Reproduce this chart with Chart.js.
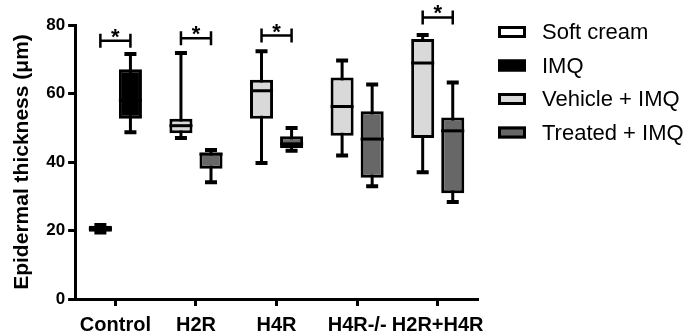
<!DOCTYPE html>
<html>
<head>
<meta charset="utf-8">
<script src="https://cdn.jsdelivr.net/npm/chart.js@4/dist/chart.umd.min.js"></script>
<style>
  html, body { margin: 0; padding: 0; background: #fff; }
</style>
</head>
<body>
<canvas id="box-chart" width="691" height="335"></canvas>
<script>
// groups on the x axis
const categories = ['Control', 'H2R', 'H4R', 'H4R-/-', 'H2R+H4R'];

// left box of each group: Soft cream (Control) / Vehicle + IMQ (the rest)
const leftMin = [19.4, 47.0, 39.7, 41.9, 37.0];
const leftQ1 = [19.6, 48.4, 52.6, 47.7, 47.0];
const leftMedian = [20.5, 50.6, 60.8, 56.2, 68.9];
const leftQ3 = [21.4, 52.6, 64.0, 64.7, 75.9];
const leftMax = [21.6, 71.8, 72.3, 69.6, 77.1];

// right box of each group: IMQ (Control) / Treated + IMQ (the rest)
const rightMin = [48.7, 34.1, 43.3, 32.9, 28.3];
const rightQ1 = [52.6, 38.0, 44.1, 35.4, 30.9];
const rightMedian = [58.0, 42.3, 45.3, 46.7, 49.1];
const rightQ3 = [67.1, 42.8, 47.5, 54.8, 53.0];
const rightMax = [71.5, 43.5, 49.9, 62.6, 63.2];

const yTicks = [0, 20, 40, 60, 80];

const legendLabels = ['Soft cream', 'IMQ', 'Vehicle + IMQ', 'Treated + IMQ'];

// significance brackets (* between the two boxes of a group)
const sigGroups = ['Control', 'H2R', 'H4R', 'H2R+H4R'];
const sigLevels = [75.4, 76.1, 76.9, 82.2];

var FONT = "'Liberation Sans', Arial, sans-serif";
var softCream = '#ffffff', imq = '#000000', vehicle = '#d9d9d9', treated = '#676767';
var legendFills = [softCream, imq, vehicle, treated];

var leftFill = categories.map((c, i) => i === 0 ? softCream : vehicle);
var rightFill = categories.map((c, i) => i === 0 ? imq : treated);

var stats = [
  {min: leftMin, med: leftMedian, max: leftMax},
  {min: rightMin, med: rightMedian, max: rightMax}
];

// whiskers, medians, brackets and legend drawn around the floating bars
const boxPlot = {
  id: 'boxPlot',
  beforeDatasetsDraw(chart) {
    const ctx = chart.ctx, y = chart.scales.y;
    ctx.save();
    ctx.strokeStyle = '#000';
    stats.forEach((s, d) => {
      chart.getDatasetMeta(d).data.forEach((bar, i) => {
        const bx = bar.x;
        const yMin = y.getPixelForValue(s.min[i]);
        const yMax = y.getPixelForValue(s.max[i]);
        ctx.lineWidth = 3;
        ctx.beginPath();
        ctx.moveTo(bx, yMin);
        ctx.lineTo(bx, yMax);
        ctx.stroke();
        ctx.lineWidth = 4;
        ctx.beginPath();
        ctx.moveTo(bx - 6, yMin);
        ctx.lineTo(bx + 6, yMin);
        ctx.moveTo(bx - 6, yMax);
        ctx.lineTo(bx + 6, yMax);
        ctx.stroke();
      });
    });
    ctx.restore();
  },
  afterDatasetsDraw(chart) {
    const ctx = chart.ctx, y = chart.scales.y;
    ctx.save();
    ctx.strokeStyle = '#000';
    ctx.lineWidth = 3;
    stats.forEach((s, d) => {
      chart.getDatasetMeta(d).data.forEach((bar, i) => {
        const ym = y.getPixelForValue(s.med[i]);
        ctx.beginPath();
        ctx.moveTo(bar.x - bar.width / 2, ym);
        ctx.lineTo(bar.x + bar.width / 2, ym);
        ctx.stroke();
      });
    });

    // brackets with stars
    ctx.lineWidth = 2.5;
    ctx.fillStyle = '#000';
    ctx.font = 'bold 22px ' + FONT;
    ctx.textAlign = 'center';
    ctx.textBaseline = 'alphabetic';
    sigGroups.forEach((g, k) => {
      const i = categories.indexOf(g);
      const x1 = chart.getDatasetMeta(0).data[i].x;
      const x2 = chart.getDatasetMeta(1).data[i].x;
      const yl = y.getPixelForValue(sigLevels[k]);
      ctx.beginPath();
      ctx.moveTo(x1, yl - 7);
      ctx.lineTo(x1, yl + 7);
      ctx.moveTo(x1, yl);
      ctx.lineTo(x2, yl);
      ctx.moveTo(x2, yl - 7);
      ctx.lineTo(x2, yl + 7);
      ctx.stroke();
      ctx.fillText('*', (x1 + x2) / 2, yl + 3);
    });
    ctx.restore();
  },
  afterDraw(chart) {
    const ctx = chart.ctx;
    ctx.save();
    ctx.font = '22px ' + FONT;
    ctx.textBaseline = 'middle';
    ctx.textAlign = 'left';
    legendLabels.forEach((lab, k) => {
      const cy = 32 + k * 33.5;
      ctx.fillStyle = legendFills[k];
      ctx.fillRect(498, cy - 6, 28, 12);
      ctx.strokeStyle = '#000';
      ctx.lineWidth = 3;
      ctx.strokeRect(499.5, cy - 4.5, 25, 9);
      ctx.fillStyle = '#000';
      ctx.fillText(lab, 542, cy + 1);
    });
    ctx.restore();
  }
};

const data = {
  labels: categories,
  datasets: [
    {
      label: 'left',
      data: leftQ1.map((q, i) => [q, leftQ3[i]]),
      backgroundColor: leftFill,
      borderColor: '#000',
      borderWidth: 3,
      borderSkipped: false
    }, {
      label: 'right',
      data: rightQ1.map((q, i) => [q, rightQ3[i]]),
      backgroundColor: rightFill,
      borderColor: '#000',
      borderWidth: 3,
      borderSkipped: false
    }
  ]
};

const config = {
  type: 'bar',
  data,
  options: {
    responsive: false,
    animation: false,
    categoryPercentage: 0.746,
    barPercentage: 0.767,
    layout: {padding: {left: 10, right: 213, top: 25, bottom: 0}},
    plugins: {legend: {display: false}, tooltip: {enabled: false}},
    scales: {
      x: {
        afterFit: (s) => { s.height = 36; },
        grid: {display: true, offset: false, drawOnChartArea: false, drawTicks: true, tickLength: 7, tickWidth: 3, tickColor: '#000'},
        border: {display: true, color: '#000', width: 3},
        ticks: {color: '#000', padding: 9, maxRotation: 0, autoSkip: false, font: {family: FONT, size: 20, weight: 'bold', lineHeight: 1}}
      },
      y: {
        min: 0,
        max: 80,
        afterBuildTicks: (s) => { s.ticks = yTicks.map(v => ({value: v})); },
        grid: {display: true, drawOnChartArea: false, drawTicks: true, tickLength: 7, tickWidth: 3, tickColor: '#000'},
        border: {display: true, color: '#000', width: 3},
        ticks: {color: '#000', padding: 3, font: {family: FONT, size: 17, weight: 'bold'}},
        title: {
          display: true,
          text: 'Epidermal thickness (μm)',
          color: '#000',
          padding: {top: 0, bottom: 8},
          font: {family: FONT, size: 21, weight: 'bold'}
        }
      }
    }
  },
  plugins: [boxPlot]
};

var chart = new Chart(document.getElementById('box-chart').getContext('2d'), config);
</script>
</body>
</html>
